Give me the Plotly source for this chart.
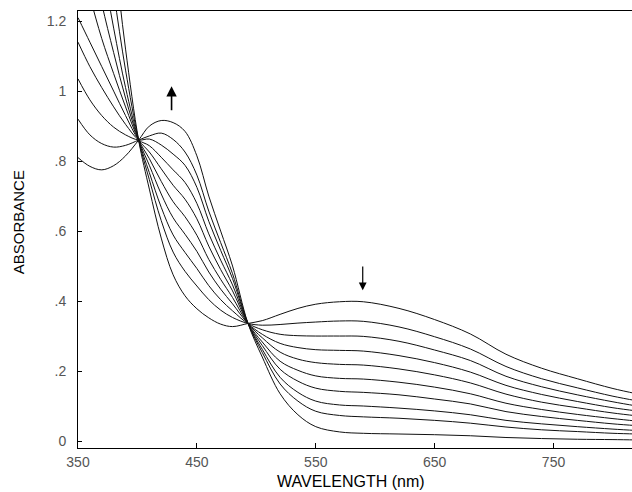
import plotly.graph_objects as go

wavelength = [350, 360, 370, 380, 390, 401, 410, 420, 430, 440, 450, 460, 470, 480, 493,
              505, 520, 535, 550, 570, 590, 620, 650, 680, 710, 740, 770, 800, 820]

# Absorbance spectra, first (t0) to last (t9)
abs_t0 = [2.10, 1.86, 1.62, 1.40, 1.12, 0.86, 0.720, 0.580, 0.475, 0.415, 0.378, 0.352, 0.334, 0.327, 0.336,
          0.344, 0.362, 0.379, 0.391, 0.398, 0.398, 0.379, 0.347, 0.306, 0.248, 0.208, 0.178, 0.150, 0.135]
abs_t1 = [1.95, 1.72, 1.49, 1.28, 1.06, 0.86, 0.747, 0.630, 0.540, 0.485, 0.443, 0.404, 0.374, 0.353, 0.336,
          0.331, 0.333, 0.337, 0.340, 0.343, 0.342, 0.326, 0.298, 0.263, 0.213, 0.178, 0.152, 0.128, 0.115]
abs_t2 = [1.78, 1.57, 1.37, 1.18, 1.01, 0.86, 0.767, 0.668, 0.589, 0.539, 0.493, 0.444, 0.404, 0.372, 0.336,
          0.318, 0.305, 0.301, 0.300, 0.300, 0.299, 0.285, 0.260, 0.230, 0.185, 0.155, 0.132, 0.112, 0.100]
abs_t3 = [1.60, 1.42, 1.25, 1.11, 0.98, 0.86, 0.788, 0.706, 0.638, 0.591, 0.542, 0.483, 0.434, 0.392, 0.336,
          0.305, 0.279, 0.267, 0.261, 0.259, 0.257, 0.244, 0.224, 0.197, 0.159, 0.133, 0.113, 0.095, 0.086]
abs_t4 = [1.40, 1.27, 1.15, 1.05, 0.955, 0.86, 0.807, 0.742, 0.684, 0.641, 0.588, 0.519, 0.462, 0.410, 0.336,
          0.295, 0.254, 0.234, 0.224, 0.219, 0.217, 0.206, 0.189, 0.166, 0.134, 0.111, 0.095, 0.080, 0.072]
abs_t5 = [1.21, 1.14, 1.07, 1.00, 0.93, 0.86, 0.826, 0.778, 0.731, 0.691, 0.635, 0.557, 0.490, 0.429, 0.336,
          0.283, 0.228, 0.202, 0.186, 0.179, 0.177, 0.168, 0.154, 0.135, 0.108, 0.090, 0.076, 0.064, 0.057]
abs_t6 = [1.14, 1.07, 1.01, 0.955, 0.905, 0.86, 0.844, 0.811, 0.775, 0.739, 0.679, 0.592, 0.517, 0.446, 0.336,
          0.273, 0.205, 0.171, 0.151, 0.142, 0.139, 0.132, 0.120, 0.106, 0.084, 0.070, 0.059, 0.049, 0.044]
abs_t7 = [1.035, 0.975, 0.93, 0.897, 0.875, 0.86, 0.863, 0.846, 0.820, 0.788, 0.725, 0.628, 0.545, 0.464, 0.336,
          0.262, 0.182, 0.139, 0.114, 0.103, 0.100, 0.094, 0.086, 0.075, 0.059, 0.049, 0.041, 0.034, 0.030]
abs_t8 = [0.92, 0.875, 0.85, 0.84, 0.845, 0.86, 0.872, 0.880, 0.862, 0.826, 0.760, 0.657, 0.567, 0.478, 0.336,
          0.253, 0.163, 0.114, 0.085, 0.073, 0.069, 0.065, 0.059, 0.051, 0.040, 0.032, 0.027, 0.022, 0.020]
abs_t9 = [0.81, 0.785, 0.775, 0.787, 0.815, 0.86, 0.900, 0.916, 0.910, 0.885, 0.815, 0.700, 0.600, 0.500, 0.336,
          0.240, 0.135, 0.075, 0.041, 0.026, 0.022, 0.020, 0.018, 0.015, 0.010, 0.007, 0.005, 0.004, 0.003]

spectra = [abs_t0, abs_t1, abs_t2, abs_t3, abs_t4, abs_t5, abs_t6, abs_t7, abs_t8, abs_t9]

x_ticks = [350, 450, 550, 650, 750]
y_ticks = [0, 0.2, 0.4, 0.6, 0.8, 1.0, 1.2]
y_tick_labels = ["0", ".2", ".4", ".6", ".8", "1", "1.2"]

fig = go.Figure()
for s in spectra:
    fig.add_trace(go.Scatter(x=wavelength, y=s, mode="lines",
                             line=dict(color="#111111", width=1, shape="spline", smoothing=1.0),
                             showlegend=False, hoverinfo="skip"))

tick_font = dict(family="Liberation Sans, Arial, sans-serif", size=14, color="#555555")

fig.update_layout(
    width=632, height=492,
    margin=dict(l=78, r=0, t=11, b=44),
    paper_bgcolor="white", plot_bgcolor="white",
    showlegend=False,
    xaxis=dict(range=[350, 816], showgrid=False, zeroline=False,
               showline=True, linecolor="black", linewidth=1, mirror=True,
               ticks="inside", ticklen=5, tickcolor="black",
               tickvals=x_ticks, ticktext=[str(v) for v in x_ticks],
               tickfont=tick_font, ticklabelstandoff=1),
    yaxis=dict(range=[-0.02, 1.229], showgrid=False, zeroline=False,
               showline=True, linecolor="black", linewidth=1,
               ticks="inside", ticklen=4, tickcolor="black",
               tickvals=y_ticks, ticktext=y_tick_labels,
               tickfont=tick_font, ticklabelstandoff=8),
    annotations=[
        dict(text="ABSORBANCE", xref="paper", yref="paper", x=-0.108, y=0.517,
             textangle=-90, showarrow=False, xanchor="center", yanchor="middle",
             font=dict(family="Liberation Sans, Arial, sans-serif", size=15, color="black")),
        dict(text="WAVELENGTH (nm)", xref="paper", yref="paper", x=0.493, y=-0.077,
             showarrow=False, xanchor="center", yanchor="middle",
             font=dict(family="Liberation Sans, Arial, sans-serif", size=16, color="black")),
        dict(x=428.7, y=1.014, ax=428.7, ay=0.941, xref="x", yref="y", axref="x", ayref="y",
             showarrow=True, arrowhead=2, arrowsize=1.3, arrowwidth=1.6, arrowcolor="black", text=""),
        dict(x=589.5, y=0.431, ax=589.5, ay=0.503, xref="x", yref="y", axref="x", ayref="y",
             showarrow=True, arrowhead=2, arrowsize=1.3, arrowwidth=1.2, arrowcolor="black", text=""),
    ],
)

fig.write_html("out.html")
